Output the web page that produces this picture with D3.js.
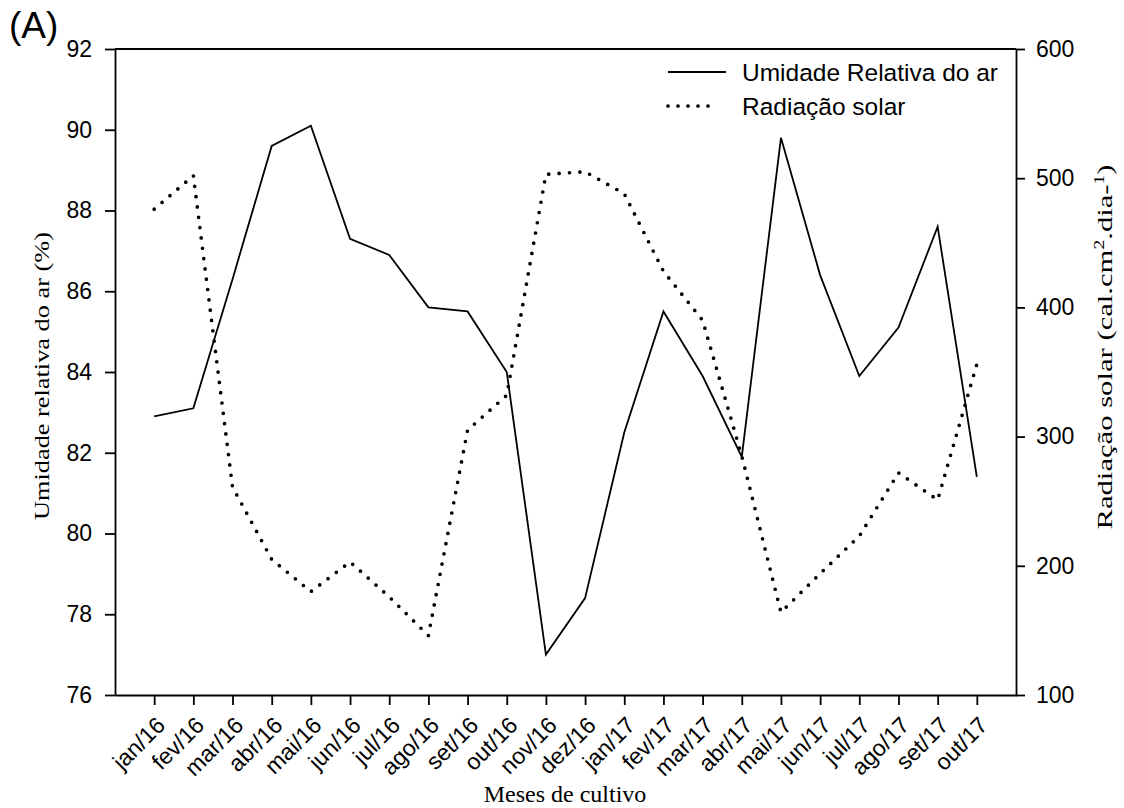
<!DOCTYPE html>
<html>
<head>
<meta charset="utf-8">
<script src="https://cdn.jsdelivr.net/npm/d3@7"></script>
<style>
  html, body { margin: 0; padding: 0; background: #fff; }
  svg { display: block; }
</style>
</head>
<body>
<div id="chart"></div>
<script>
const months = ["jan/16","fev/16","mar/16","abr/16","mai/16","jun/16","jul/16","ago/16","set/16","out/16","nov/16","dez/16",
                "jan/17","fev/17","mar/17","abr/17","mai/17","jun/17","jul/17","ago/17","set/17","out/17"];
const humidity = [82.9, 83.1, 86.3, 89.6, 90.1, 87.3, 86.9, 85.6, 85.5, 84.0, 77.0, 78.4,
                  82.5, 85.5, 83.9, 81.9, 89.8, 86.4, 83.9, 85.1, 87.6, 81.4];
const radiation = [476, 502, 261, 205, 180, 203, 176, 146, 305, 332, 503, 505,
                   488, 428, 390, 285, 164, 194, 223, 272, 251, 356];
const leftTicks = [76, 78, 80, 82, 84, 86, 88, 90, 92];
const rightTicks = [100, 200, 300, 400, 500, 600];
const seriesNames = ["Umidade Relativa do ar", "Radiação solar"];

const W = 1124, H = 808;
const L = 115, R = 1016, T = 49, B = 695;

const svg = d3.select("#chart").append("svg").attr("width", W).attr("height", H);

const x = d3.scalePoint().domain(months).range([L, R]).padding(1);
const yL = d3.scaleLinear().domain([76, 92]).range([B, T]);
const yR = d3.scaleLinear().domain([100, 600]).range([B, T]);

const sans = "Arial, 'Liberation Sans', sans-serif";
const serif = "'Times New Roman', 'Liberation Serif', serif";

// frame top line
svg.append("line").attr("x1", L).attr("x2", R).attr("y1", T).attr("y2", T)
  .attr("stroke", "#000").attr("stroke-width", 1.8);

// left axis
const gL = svg.append("g").attr("transform", `translate(${L},0)`)
  .call(d3.axisLeft(yL).tickValues(leftTicks).tickSize(10).tickSizeOuter(0).tickPadding(13));
// right axis
const gR = svg.append("g").attr("transform", `translate(${R},0)`)
  .call(d3.axisRight(yR).tickValues(rightTicks).tickSize(9).tickSizeOuter(0).tickPadding(11));
// bottom axis
const gB = svg.append("g").attr("transform", `translate(0,${B})`)
  .call(d3.axisBottom(x).tickSize(10).tickSizeOuter(0).tickPadding(0));

[gL, gR, gB].forEach(g => {
  g.select(".domain").attr("stroke", "#000").attr("stroke-width", 1.8);
  g.selectAll(".tick line").attr("stroke", "#000").attr("stroke-width", 1.8);
  g.selectAll("text").attr("font-family", sans).attr("font-size", 23).attr("fill", "#000");
});
gR.selectAll(".tick text").attr("x", 20);

gB.selectAll(".tick text")
  .attr("text-anchor", "end")
  .attr("dy", "0.35em")
  .attr("transform", "translate(-1,19) rotate(-45)");

// data lines
const lineH = d3.line().x((d, i) => x(months[i])).y(d => yL(d));
const lineR = d3.line().x((d, i) => x(months[i])).y(d => yR(d));

svg.append("path").datum(humidity).attr("d", lineH)
  .attr("fill", "none").attr("stroke", "#000").attr("stroke-width", 1.8).attr("stroke-linejoin", "miter");

svg.append("path").datum(radiation).attr("d", lineR)
  .attr("fill", "none").attr("stroke", "#000").attr("stroke-width", 3.7)
  .attr("stroke-linecap", "round").attr("stroke-dasharray", "0,10.4");

// legend
const lg = svg.append("g");
lg.append("line").attr("x1", 668).attr("x2", 726).attr("y1", 72).attr("y2", 72)
  .attr("stroke", "#000").attr("stroke-width", 1.8);
lg.append("path").attr("d", "M668,106L718,106")
  .attr("fill", "none").attr("stroke", "#000").attr("stroke-width", 3.7)
  .attr("stroke-linecap", "round").attr("stroke-dasharray", "0,10");
lg.append("text").attr("x", 742).attr("y", 72).attr("dy", "0.35em")
  .attr("font-family", sans).attr("font-size", 24.5).text(seriesNames[0]);
lg.append("text").attr("x", 742).attr("y", 106).attr("dy", "0.35em")
  .attr("font-family", sans).attr("font-size", 24.5).text(seriesNames[1]);

// panel label
svg.append("text").attr("x", 9).attr("y", 38).attr("font-family", sans).attr("font-size", 37).text("(A)");

// axis titles
svg.append("text")
  .attr("transform", `translate(49,376) rotate(-90)`)
  .attr("text-anchor", "middle").attr("font-family", serif).attr("font-size", 22)
  .attr("textLength", 288).attr("lengthAdjust", "spacingAndGlyphs")
  .text("Umidade relativa do ar (%)");

const rt = svg.append("text")
  .attr("transform", `translate(1112,347) rotate(-90)`)
  .attr("text-anchor", "middle").attr("font-family", serif).attr("font-size", 22)
  .attr("textLength", 365).attr("lengthAdjust", "spacingAndGlyphs");
rt.append("tspan").text("Radiação solar  (cal.cm");
rt.append("tspan").attr("font-size", 14).attr("dy", -8).text("2");
rt.append("tspan").attr("dy", 8).text(".dia-");
rt.append("tspan").attr("font-size", 14).attr("dy", -8).text("1");
rt.append("tspan").attr("dy", 8).text(")");

svg.append("text").attr("x", 565).attr("y", 802)
  .attr("text-anchor", "middle").attr("font-family", serif).attr("font-size", 24)
  .text("Meses de cultivo");
</script>
</body>
</html>
